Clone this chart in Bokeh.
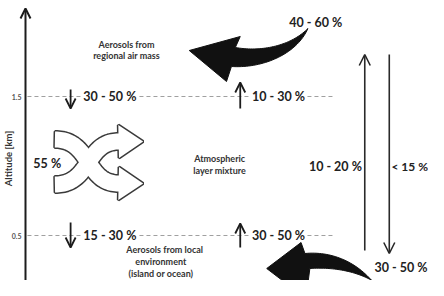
import numpy as np
from bokeh.plotting import figure
from bokeh.models import Range1d, Arrow, OpenHead
from bokeh.embed import file_html
from bokeh.resources import INLINE
from bokeh.core.properties import value

# ---------------- data ----------------
levels_km = [1.5, 0.5]
level_labels = ["1.5", "0.5"]
down_pcts = ["30 - 50 %", "15 - 30 %"]      # downward exchange at each level
up_pcts = ["10 - 30 %", "30 - 50 %"]        # upward exchange at each level
mix_pct = "55 %"
regional_pct = "40 - 60 %"
up_total_pct = "10 - 20 %"
down_total_pct = "< 15 %"
local_pct = "30 - 50 %"
regional_label = ["Aerosols from", "regional air mass"]
mixture_label = ["Atmospheric", "layer mixture"]
local_label = ["Aerosols from local", "environment", "(island or ocean)"]
y_title = "Altitude [km]"

# ---------------- layout helpers ----------------
PX_PER_KM = 139.0
ROW_15 = 104.0


def Y(py):
    """convert a layout row (px from top) into km"""
    return 1.5 - (py - ROW_15) / PX_PER_KM


FONT = value("Lato")
INK = "#1c1c1c"

p = figure(width=428, height=280, output_backend="svg", toolbar_location=None,
           x_range=Range1d(7.5, 444), y_range=Range1d(Y(288), Y(8)),
           x_axis_location=None, y_axis_location=None, min_border=0)
p.grid.visible = False
p.outline_line_color = None
p.background_fill_color = "white"


def bez(p0, p1, p2, p3, n=40):
    t = np.linspace(0, 1, n)[:, None]
    p0, p1, p2, p3 = map(np.asarray, (p0, p1, p2, p3))
    return ((1 - t) ** 3) * p0 + 3 * ((1 - t) ** 2) * t * p1 + 3 * (1 - t) * t ** 2 * p2 + t ** 3 * p3


# ---------------- dashed altitude levels ----------------
for lv in levels_km:
    p.segment(x0=[35], x1=[347], y0=[lv], y1=[lv], line_dash="4 3",
              line_color="#a0a0a0", line_width=1)

# level tick labels
p.text(x=[29] * len(levels_km), y=levels_km, text=level_labels, text_font=FONT,
       text_font_style="bold", text_font_size="7px", text_align="right",
       text_baseline="middle", text_color="#555555")

# axis title
p.text(x=[16], y=[Y(166)], text=[y_title], angle=np.pi / 2, text_font=FONT,
       text_font_style="bold", text_font_size="9.5px", text_align="center",
       text_baseline="middle", text_color="#333333")

# main altitude axis arrow
p.add_layout(Arrow(end=OpenHead(size=10, line_width=2, line_color=INK),
                   x_start=33, y_start=Y(300), x_end=33, y_end=Y(16),
                   line_width=2, line_color=INK))

# ---------------- level exchange arrows & labels ----------------
pct_kw = dict(text_font=FONT, text_font_style="bold", text_font_size="12.5px",
              text_baseline="middle", text_color="#222222")

down_geo = [(97, 116), (230, 255)]
up_geo = [(116, 90), (255, 231)]
for i, lv in enumerate(levels_km):
    p.text(x=[91], y=[lv], text=[down_pcts[i]], text_align="left",
           background_fill_color="white", padding=1, **pct_kw)
    p.text(x=[263], y=[lv], text=[up_pcts[i]], text_align="left",
           background_fill_color="white", padding=1, **pct_kw)
    ds, de = down_geo[i]
    us, ue = up_geo[i]
    p.add_layout(Arrow(end=OpenHead(size=10, line_width=1.8, line_color=INK),
                       x_start=79, y_start=Y(ds), x_end=79, y_end=Y(de),
                       line_width=1.8, line_color=INK))
    p.add_layout(Arrow(end=OpenHead(size=10, line_width=1.8, line_color=INK),
                       x_start=252, y_start=Y(us), x_end=252, y_end=Y(ue),
                       line_width=1.8, line_color=INK))

# ---------------- right vertical arrows ----------------
p.add_layout(Arrow(end=OpenHead(size=11, line_width=1.6, line_color="#2a2a2a"),
                   x_start=379, y_start=Y(258), x_end=379, y_end=Y(62),
                   line_width=1.6, line_color="#2a2a2a"))
p.add_layout(Arrow(end=OpenHead(size=11, line_width=1.6, line_color="#2a2a2a"),
                   x_start=404, y_start=Y(62), x_end=404, y_end=Y(261),
                   line_width=1.6, line_color="#2a2a2a"))
p.text(x=[322], y=[Y(174)], text=[up_total_pct], text_align="left", **pct_kw)
edge_kw = dict(pct_kw)
edge_kw["text_font_size"] = "12px"
p.text(x=[443.5], y=[Y(174)], text=[down_total_pct], text_align="right", **edge_kw)
p.text(x=[443], y=[Y(275)], text=[local_pct], text_align="right", **pct_kw)
p.text(x=[302], y=[Y(30)], text=[regional_pct], text_align="left", **pct_kw)
p.text(x=[41], y=[Y(171)], text=[mix_pct], text_align="left", **pct_kw)

# ---------------- small descriptive labels ----------------
small_kw = dict(text_font=FONT, text_font_style="bold", text_font_size="9px",
                text_baseline="middle", text_align="center", text_color="#333333")
p.text(x=[136, 136], y=[Y(52), Y(63)], text=regional_label, **small_kw)
p.text(x=[231, 231], y=[Y(166), Y(178)], text=mixture_label, **small_kw)
p.text(x=[175, 171, 171], y=[Y(257), Y(269), Y(281)], text=local_label, **small_kw)

# ---------------- big curved arrows ----------------
def curved_arrow(tip, bar_up, in_up, up_ctrl, tail_a, tail_b, lo_ctrl, in_lo, bar_lo):
    upper = bez(in_up, up_ctrl[0], up_ctrl[1], tail_a)
    lower = bez(tail_b, lo_ctrl[0], lo_ctrl[1], in_lo)
    pts = [tip, bar_up] + [tuple(q) for q in upper] + [tuple(q) for q in lower] + [bar_lo]
    xs = [q[0] for q in pts]
    ys = [Y(q[1]) for q in pts]
    return xs, ys

xs, ys = curved_arrow((200, 58), (252, 44), (247, 55), ((276, 60), (305, 52)),
                      (321, 36), (321, 36), ((310, 61), (276, 76)), (243, 74), (238, 89))
p.patch(xs, ys, fill_color="#111111", line_color="#111111", line_width=1)

xs, ys = curved_arrow((279, 276), (314, 250), (318, 261), ((350, 258), (380, 274)),
                      (396, 302), (404, 302), ((386, 281), (352, 274)), (323, 276), (319, 306))
p.patch(xs, ys, fill_color="#111111", line_color="#111111", line_width=1)

# ---------------- crossed mixing arrows ----------------
def band_arrow(p0, p1, p2, p3, tip, hw, hh):
    c = bez(p0, p1, p2, p3, 60)
    d = np.gradient(c, axis=0)
    d /= np.linalg.norm(d, axis=1)[:, None]
    nrm = np.stack([-d[:, 1], d[:, 0]], axis=1)
    left = c + hw * nrm
    right = c - hw * nrm
    base = c[-1]
    nb = nrm[-1]
    pts = list(map(tuple, left)) + [tuple(base + hh * nb), tip, tuple(base - hh * nb)] + \
        list(map(tuple, right[::-1]))
    return [q[0] for q in pts], [Y(q[1]) for q in pts]

shapes = [
    band_arrow((63, 192), (100, 192), (94, 149), (128, 149), (153, 149), 8, 16.5),
    band_arrow((63, 147), (100, 147), (94, 191), (128, 191), (153, 191), 8, 16.5),
]
for sx, sy in shapes:
    p.patch(sx, sy, fill_color="white", line_color="#3a3a3a", line_width=3)
for sx, sy in shapes:
    p.patch(sx, sy, fill_color="white", line_color=None)

open("out.html", "w").write(file_html(p, INLINE))
